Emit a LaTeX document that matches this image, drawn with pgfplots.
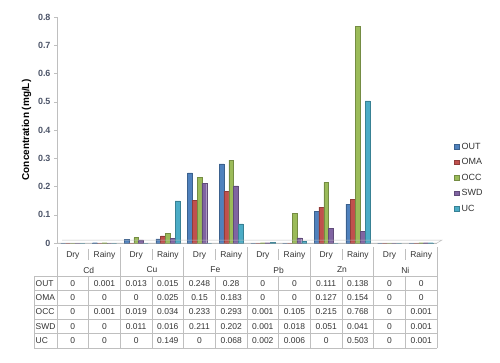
\documentclass[border=0pt]{standalone}
\usepackage{pgfplots}
\pgfplotsset{compat=1.18}
\usepackage{fontspec}
\setmainfont{Liberation Sans}
\definecolor{cOUT}{HTML}{4F81BD}
\definecolor{cOMA}{HTML}{C0504D}
\definecolor{cOCC}{HTML}{9BBB59}
\definecolor{cSWD}{HTML}{8064A2}
\definecolor{cUC}{HTML}{4BACC6}
\definecolor{gridc}{HTML}{BFBFBF}
\definecolor{tickc}{HTML}{4D5569}
\definecolor{txt}{HTML}{333333}
\begin{document}
\begin{tikzpicture}[x=1bp,y=1bp]
\path[use as bounding box] (0,0) rectangle (500,362);
\begin{axis}[
  at={(57bp,119bp)}, anchor=south west, scale only axis,
  width=380bp, height=226bp,
  xmin=-0.5, xmax=11.5, ymin=0, ymax=0.8,
  ybar=0pt, bar width=4.8bp,
  axis x line*=bottom, axis y line*=left,
  x axis line style={draw=gridc}, y axis line style={draw=gridc},
  xtick=\empty,
  ytick={0,0.1,0.2,0.3,0.4,0.5,0.6,0.7,0.8},
  /pgf/number format/assume math mode=true,
  yticklabel style={font=\fontsize{9}{10}\selectfont\bfseries, text=tickc, /pgf/number format/fixed, /pgf/number format/precision=1},
  tick style={draw=gridc},
  major tick length=3bp,
  tick align=outside,
  ylabel={\textbf{Concentration (mg/L)}},
  ylabel style={font=\fontsize{10}{12}\selectfont},
  clip=false,
  legend style={at={(1.045,0.29)}, anchor=west, draw=none, fill=none,
    font=\fontsize{9}{10}\selectfont, text=txt, row sep=5.5bp, inner sep=0pt,
    nodes={inner sep=1bp, text height=7bp, text depth=1bp}},
  legend cell align=left,
  legend image code/.code={\fill[#1] (0bp,-2.2bp) rectangle (4.4bp,2.2bp); \path (6bp,0);},
]
\addplot[fill=cOUT, draw=cOUT!75!black, line width=0.3pt] coordinates {(0,0) (1,0.001) (2,0.013) (3,0.015) (4,0.248) (5,0.28) (6,0) (7,0) (8,0.111) (9,0.138) (10,0) (11,0)};
\addplot[fill=cOMA, draw=cOMA!75!black, line width=0.3pt] coordinates {(0,0) (1,0) (2,0) (3,0.025) (4,0.15) (5,0.183) (6,0) (7,0) (8,0.127) (9,0.154) (10,0) (11,0)};
\addplot[fill=cOCC, draw=cOCC!75!black, line width=0.3pt] coordinates {(0,0) (1,0.001) (2,0.019) (3,0.034) (4,0.233) (5,0.293) (6,0.001) (7,0.105) (8,0.215) (9,0.768) (10,0) (11,0.001)};
\addplot[fill=cSWD, draw=cSWD!75!black, line width=0.3pt] coordinates {(0,0) (1,0) (2,0.011) (3,0.016) (4,0.211) (5,0.202) (6,0.001) (7,0.018) (8,0.051) (9,0.041) (10,0) (11,0.001)};
\addplot[fill=cUC, draw=cUC!75!black, line width=0.3pt] coordinates {(0,0) (1,0) (2,0) (3,0.149) (4,0) (5,0.068) (6,0.002) (7,0.006) (8,0) (9,0.503) (10,0) (11,0.001)};
\legend{OUT,OMA,OCC,SWD,UC}
\end{axis}
% floor
\draw[gridc, line width=0.5pt] (57,119) -- (437,119) -- (442,122) -- (62,122);
% category labels
\foreach \i in {0,...,11}{
  \pgfmathsetmacro{\cx}{57+31.6667*(\i+0.5)}
  \pgfmathparse{int(mod(\i,2))}
  \ifnum\pgfmathresult=0
    \node[font=\fontsize{8.5}{9}\selectfont, text=txt] at (\cx,107) {Dry};
  \else
    \node[font=\fontsize{8.5}{9}\selectfont, text=txt] at (\cx,107) {Rainy};
  \fi
}
\foreach \k in {0,...,12}{
  \pgfmathsetmacro{\sx}{57+31.6667*\k}
  \pgfmathparse{int(mod(\k,2))}
  \ifnum\pgfmathresult=0
    \draw[gridc, line width=0.6pt] (\sx,115) -- (\sx,14);
  \else
    \draw[gridc, line width=0.6pt] (\sx,113) -- (\sx,102);
    \draw[gridc, line width=0.6pt] (\sx,86) -- (\sx,14);
  \fi
}
\foreach \m/\nm in {0/Cd,1/Cu,2/Fe,3/Pb,4/Zn,5/Ni}{
  \pgfmathsetmacro{\mx}{57+31.6667*(2*\m+1)}
  \node[font=\fontsize{8.5}{9}\selectfont, text=txt] at (\mx,92) {\nm};
}
% table grid
\foreach \yy in {86,71.5,57,43,28.5,14}{
  \draw[gridc, line width=0.6pt] (34,\yy) -- (437,\yy);
}
\draw[gridc, line width=0.6pt] (34,86) -- (34,14);
% table contents
\foreach \nm/\vals [count=\r from 0] in {
  OUT/{0,0.001,0.013,0.015,0.248,0.28,0,0,0.111,0.138,0,0},
  OMA/{0,0,0,0.025,0.15,0.183,0,0,0.127,0.154,0,0},
  OCC/{0,0.001,0.019,0.034,0.233,0.293,0.001,0.105,0.215,0.768,0,0.001},
  SWD/{0,0,0.011,0.016,0.211,0.202,0.001,0.018,0.051,0.041,0,0.001},
  UC/{0,0,0,0.149,0,0.068,0.002,0.006,0,0.503,0,0.001}}{
  \pgfmathsetmacro{\ry}{78.75-14.4*\r}
  \node[font=\fontsize{8.5}{9}\selectfont, text=txt, anchor=west, inner sep=0pt] at (35.5,\ry) {\nm};
  \foreach \v [count=\c from 0] in \vals {
    \pgfmathsetmacro{\vx}{57+31.6667*(\c+0.5)}
    \node[font=\fontsize{8.5}{9}\selectfont, text=txt, inner sep=0pt] at (\vx,\ry) {\v};
  }
}
\end{tikzpicture}
\end{document}
